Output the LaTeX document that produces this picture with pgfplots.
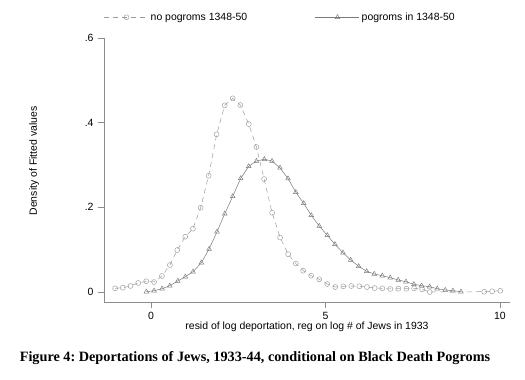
\documentclass[border=0pt]{standalone}
\usepackage{fontspec}
\setmainfont{Liberation Sans}
\newfontfamily\titlefont{Liberation Serif}
\usepackage{pgfplots}
\pgfplotsset{compat=1.18}
\definecolor{cline}{HTML}{9A9A9A}
\definecolor{tline}{HTML}{7A7A7A}
\definecolor{axcol}{HTML}{8C8C8C}
\frenchspacing
\begin{document}
\begin{tikzpicture}
\useasboundingbox (0,0) rectangle (525bp,380bp);
\begin{axis}[
  at={(104bp,78bp)}, anchor=south west,
  scale only axis, width=406bp, height=264bp,
  xmin=-1.35, xmax=10.29, ymin=-0.0236, ymax=0.6,
  axis x line*=bottom, axis y line*=left,
  axis line style={axcol, line width=0.6bp, -},
  xtick={0,5,10}, xticklabels={\mbox{0},\mbox{5},\mbox{10}},
  ytick={0,0.2,0.4,0.6}, yticklabels={\mbox{0},\mbox{.2},\mbox{.4},\mbox{.6}},
  tick align=outside, major tick length=6bp,
  tick style={axcol, line width=0.6bp},
  ticklabel style={font=\fontsize{10.5}{12}\selectfont, black},
  xticklabel style={yshift=-1bp},
  yticklabel style={xshift=-1bp},
  xlabel={resid of log deportation, reg on log \# of Jews in 1933},
  ylabel={Density of Fitted values},
  label style={font=\fontsize{10.5}{12}\selectfont},
  xlabel style={at={(rel axis cs:0.5,0)}, anchor=center, yshift=-25bp},
  ylabel style={at={(rel axis cs:-0.172,0.534)}, anchor=center, rotate=0},
  legend image code/.code={\draw[mark repeat=2,mark phase=2,#1] plot coordinates {(0bp,0bp) (22bp,0bp) (44bp,0bp)};},
  legend columns=2,
  legend style={at={(0,1)}, anchor=south west, yshift=14bp, draw=none, fill=none,
    inner sep=0pt, font=\fontsize{10.5}{12}\selectfont,
    /tikz/every even column/.append style={column sep=66bp}},
  legend cell align=left,
]
\addplot[cline, line width=0.5bp, dash pattern=on 5bp off 4bp, mark=o, mark size=2.5bp,
  mark options={solid, line width=0.45bp}] coordinates {
(-1.03,0.0087) (-0.81,0.0102) (-0.59,0.0142) (-0.37,0.0213) (-0.14,0.0253)
(0.086,0.0236) (0.31,0.0378) (0.54,0.0638) (0.75,0.0992) (0.98,0.1306)
(1.20,0.1495) (1.42,0.199) (1.65,0.2746) (1.88,0.3724) (2.11,0.4409)
(2.34,0.4574) (2.56,0.4416) (2.80,0.3967) (3.02,0.3424) (3.24,0.2668)
(3.47,0.1872) (3.70,0.1287) (3.93,0.0893) (4.15,0.0673) (4.36,0.0503)
(4.59,0.0385) (4.82,0.0300) (5.05,0.0189) (5.28,0.0118) (5.51,0.0135)
(5.74,0.0142) (5.97,0.0135) (6.19,0.0118) (6.41,0.0094) (6.63,0.0087)
(6.86,0.0071) (7.09,0.0078) (7.32,0.0078) (7.54,0.0087) (7.77,0.0064)
(7.99,0.0000) (9.55,0.0007) (9.78,0.0017) (10.01,0.0030)
};
\addlegendentry{no pogroms 1348-50}
\addplot[tline, line width=0.5bp, mark=triangle, mark size=2.7bp,
  mark options={solid, line width=0.45bp}] coordinates {
(-0.135,0.0007) (0.086,0.0031) (0.315,0.0078) (0.536,0.0149) (0.765,0.026)
(0.983,0.0361) (1.203,0.0479) (1.441,0.0692) (1.662,0.1015) (1.891,0.1424)
(2.112,0.1849) (2.341,0.226) (2.570,0.2685) (2.799,0.2968) (3.02,0.3093)
(3.246,0.3136) (3.467,0.3093) (3.696,0.2933) (3.926,0.268) (4.149,0.2357)
(4.375,0.2094) (4.593,0.1811) (4.822,0.1558) (5.052,0.1339) (5.272,0.1126)
(5.501,0.0928) (5.722,0.0756) (5.951,0.0607) (6.181,0.0489) (6.398,0.0425)
(6.628,0.0385) (6.857,0.0338) (7.086,0.0283) (7.307,0.0243) (7.536,0.0182)
(7.756,0.0149) (7.986,0.0125) (8.203,0.0078) (8.433,0.0047) (8.653,0.0031)
(8.883,0.0007)
};
\addlegendentry{pogroms in 1348-50}
\end{axis}
\node[font=\titlefont\bfseries\fontsize{14.3}{16}\selectfont, anchor=center] at (255bp,22bp)
  {Figure 4: Deportations of Jews, 1933-44, conditional on Black Death Pogroms};
\end{tikzpicture}
\end{document}
